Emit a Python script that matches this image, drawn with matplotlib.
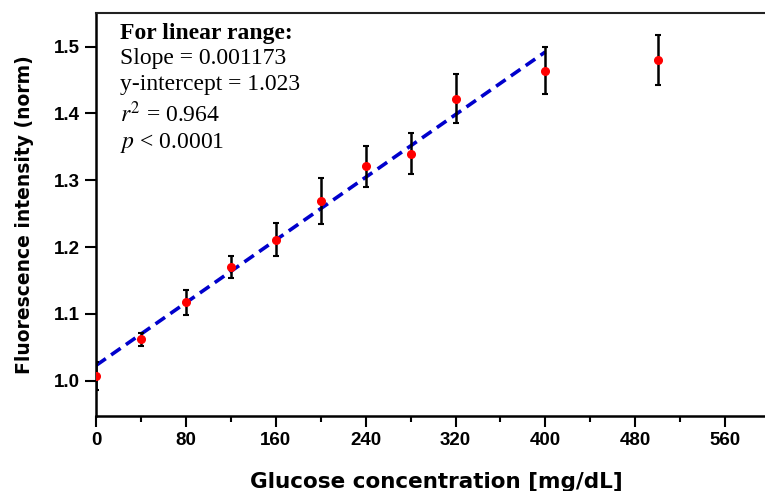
import matplotlib
matplotlib.use("Agg")
import matplotlib.pyplot as plt
import numpy as np

# Data
glucose = [0, 40, 80, 120, 160, 200, 240, 280, 320, 400, 500]
intensity = [1.007, 1.062, 1.117, 1.170, 1.211, 1.269, 1.321, 1.340, 1.422, 1.464, 1.480]
errors = [0.021, 0.010, 0.019, 0.017, 0.025, 0.035, 0.031, 0.031, 0.037, 0.035, 0.038]
slope = 0.001173
intercept = 1.023
fit_range = [0, 400]
x_ticks = [0, 80, 160, 240, 320, 400, 480, 560]
x_minor = [40, 120, 200, 280, 360, 440, 520]
y_ticks = [1.0, 1.1, 1.2, 1.3, 1.4, 1.5]
annot_lines = ["For linear range:", "Slope = 0.001173", "y-intercept = 1.023",
               r"$r^2$ = 0.964", r"$p$ < 0.0001"]

W, H = 765, 491
fig = plt.figure(figsize=(W / 100, H / 100), dpi=100)
ax = fig.add_axes([96.3 / W, 1 - 416 / H, 1.0 - 96.3 / W, (416 - 13) / H])

fx = np.array(fit_range, dtype=float)
ax.plot(fx, intercept + slope * fx, color="#0000cc", lw=2.6, ls=(0, (3.2, 1.8)), zorder=2)
ax.errorbar(glucose, intensity, yerr=errors, fmt="none", ecolor="black",
            elinewidth=1.8, capsize=2.5, capthick=1.5, zorder=3)
ax.plot(glucose, intensity, "o", color="#ff0000", ms=5.5, mec="#ff0000", zorder=4)

ax.set_xlim(0, 595.6)
ax.set_ylim(0.947, 1.5504)
ax.set_xticks(x_ticks)
ax.set_xticks(x_minor, minor=True)
ax.set_yticks(y_ticks)
ax.set_yticklabels([f"{v:.1f}" for v in y_ticks])
ax.tick_params(axis="both", which="major", direction="out", length=8, width=1.5,
               labelsize=13.5)
ax.tick_params(axis="x", which="minor", direction="out", length=4, width=1.5)
for lab in ax.get_xticklabels() + ax.get_yticklabels():
    lab.set_fontweight("bold")
    lab.set_family("Liberation Sans")

for s in ["left", "bottom"]:
    ax.spines[s].set_linewidth(1.8)
ax.spines["top"].set_linewidth(1.5)
ax.spines["top"].set_color("#222222")
ax.spines["right"].set_visible(False)

ax.set_xlabel("Glucose concentration [mg/dL]", fontsize=15.5, fontweight="bold",
              family="DejaVu Sans")
ax.xaxis.set_label_coords((436.5 - 96.3) / 668.7, -(472 - 416) / 403)
ax.set_ylabel("Fluorescence intensity (norm)", fontsize=13.5, fontweight="bold",
              family="DejaVu Sans")
ax.yaxis.set_label_coords((34 - 96.3) / 668.7, 0.5)

serif = "Liberation Serif"
baselines = [39, 64, 90, 122, 148]
for i, (txt, by) in enumerate(zip(annot_lines, baselines)):
    fig.text(120 / W, 1 - by / H, txt, fontsize=17, family=serif,
             fontweight="bold" if i == 0 else "normal", va="baseline",
             math_fontfamily="stix")

fig.savefig("out.png", dpi=100)
